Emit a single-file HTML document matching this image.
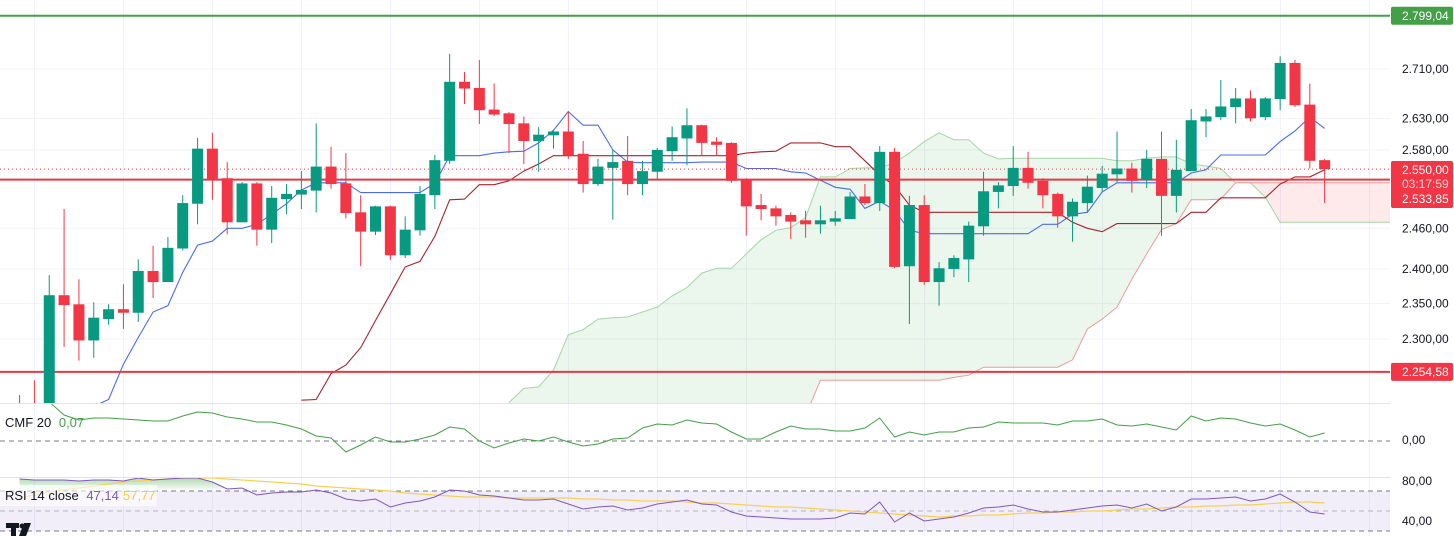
<!DOCTYPE html>
<html><head><meta charset="utf-8"><style>
html,body{margin:0;padding:0;background:#fff;}
svg{display:block;font-family:"Liberation Sans",sans-serif;}
</style></head><body>
<svg id="chart" width="1454" height="536" viewBox="0 0 1454 536" xmlns="http://www.w3.org/2000/svg">
<defs>
<clipPath id="mainClip"><rect x="0" y="0" width="1390" height="403"/></clipPath>
<clipPath id="cmfClip"><rect x="0" y="404" width="1390" height="73"/></clipPath>
<clipPath id="rsiClip"><rect x="0" y="478" width="1390" height="58"/></clipPath>
<linearGradient id="rsiGreen" x1="0" y1="0" x2="0" y2="1"><stop offset="0" stop-color="#4caf50" stop-opacity="0.45"/><stop offset="1" stop-color="#4caf50" stop-opacity="0"/></linearGradient>
</defs>
<g id="grid"></g>
<g id="cloud" clip-path="url(#mainClip)"></g>
<g id="lines" clip-path="url(#mainClip)"></g>
<g id="levels"></g>
<g id="candles" clip-path="url(#mainClip)"></g>
<g id="cmf"></g>
<g id="rsi"></g>
<g id="axis"></g>
</svg>
<script>
const opens=[2180,2212,2190,2362,2349,2298,2328,2342,2337,2397,2381,2430,2497,2582,2536,2469,2528,2458,2504,2511,2517,2554,2528,2484,2455,2493,2420,2457,2510,2563,2689,2679,2644,2638,2622,2594,2603,2609,2574,2527,2552,2563,2527,2546,2578,2598,2619,2593,2591,2535,2495,2490,2480,2472,2466,2470,2474,2508,2498,2577,2404,2495,2381,2400,2414,2463,2515,2524,2552,2532,2512,2478,2498,2521,2542,2551,2533,2566,2509,2547,2625,2632,2648,2662,2632,2661,2720,2652,2564];
const highs=[2223,2243,2391,2489,2385,2352,2349,2378,2414,2434,2447,2510,2599,2607,2561,2530,2530,2524,2527,2547,2622,2585,2575,2510,2494,2494,2478,2524,2572,2735,2705,2725,2686,2640,2633,2616,2611,2641,2594,2566,2580,2602,2563,2583,2617,2646,2620,2600,2592,2536,2512,2494,2484,2486,2494,2486,2515,2527,2586,2583,2509,2510,2410,2420,2470,2546,2530,2586,2577,2536,2514,2505,2540,2555,2609,2560,2580,2609,2596,2645,2645,2692,2679,2675,2664,2731,2725,2686,2566];
const lows=[2170,2180,2180,2289,2270,2274,2320,2314,2324,2358,2381,2427,2466,2503,2451,2469,2434,2438,2481,2489,2484,2520,2475,2404,2450,2413,2416,2449,2489,2558,2653,2621,2634,2575,2558,2546,2582,2566,2514,2524,2473,2510,2510,2533,2563,2556,2572,2571,2529,2449,2472,2464,2444,2446,2452,2464,2474,2495,2486,2401,2321,2377,2347,2388,2381,2449,2490,2509,2520,2490,2461,2440,2484,2515,2529,2514,2521,2449,2484,2547,2600,2627,2622,2625,2627,2643,2648,2551,2498];
const closes=[2205,2190,2362,2348,2298,2330,2342,2337,2397,2381,2431,2498,2582,2535,2469,2528,2458,2506,2512,2518,2554,2527,2483,2455,2493,2420,2458,2512,2564,2689,2678,2643,2636,2621,2594,2604,2609,2571,2527,2554,2561,2527,2547,2580,2600,2619,2591,2588,2532,2493,2489,2478,2470,2466,2472,2475,2508,2498,2577,2403,2495,2381,2401,2416,2464,2516,2525,2552,2529,2510,2478,2500,2523,2543,2551,2532,2566,2509,2549,2627,2633,2649,2662,2630,2662,2720,2651,2563,2550];
const tenkan=[null,null,null,null,null,2208,2217,2265,2302,2338,2347,2395,2435,2441,2460,2460,2466,2481,2497,2518,2529,2529,2529,2514,2514,2514,2514,2514,2528,2571,2571,2571,2575,2577,2578,2591,2611,2641,2619,2619,2580,2561,2560,2560,2560,2560,2561,2561,2561,2551,2551,2551,2546,2544,2533,2522,2519,2490,2501,2487,2457,2452,2452,2452,2452,2452,2452,2452,2452,2466,2466,2481,2484,2515,2529,2529,2529,2529,2529,2544,2549,2572,2572,2572,2572,2593,2610,2632,2614];
const kijun=[null,null,null,null,null,null,null,null,null,null,null,null,null,null,null,null,null,null,null,2216,2217,2252,2264,2288,2326,2364,2403,2411,2448,2503,2504,2526,2526,2532,2547,2558,2571,2571,2571,2571,2571,2571,2571,2571,2571,2571,2571,2571,2571,2575,2577,2578,2591,2591,2591,2585,2585,2563,2541,2524,2495,2484,2484,2484,2484,2484,2484,2484,2484,2484,2484,2469,2460,2455,2467,2467,2467,2467,2467,2484,2484,2506,2506,2506,2506,2527,2538,2538,2549];
const cloudStart=33;
const spanA=[2213,2232,2234,2257,2306,2313,2328,2330,2331,2338,2345,2361,2373,2394,2401,2401,2422,2443,2457,2461,2476,2538,2538,2551,2552,2552,2560,2575,2593,2607,2596,2596,2575,2566,2567,2567,2567,2567,2567,2567,2567,2563,2563,2567,2569,2569,2558,2555,2551,2529,2529,2507,2469,2469,2469,2469,2469,2469,2469,2469,2469];
const spanB=[2150,2150,2150,2150,2150,2150,2150,2150,2150,2150,2150,2150,2150,2150,2150,2150,2150,2150,2150,2150,2195,2243,2243,2243,2243,2243,2243,2243,2243,2243,2247,2250,2261,2261,2261,2261,2261,2261,2271,2314,2328,2345,2385,2422,2458,2467,2503,2503,2504,2529,2529,2529,2529,2529,2529,2529,2529,2529,2529,2529,2529];
const cmfVals=[0.41,0.41,0.39,0.26,0.21,0.23,0.23,0.22,0.21,0.20,0.20,0.25,0.29,0.28,0.24,0.22,0.19,0.19,0.16,0.12,0.05,0.03,-0.11,-0.04,0.04,-0.01,-0.01,0.02,0.06,0.14,0.12,0.00,-0.07,-0.02,0.02,0.00,0.04,-0.01,-0.05,-0.03,0.02,0.03,0.13,0.17,0.16,0.21,0.18,0.17,0.09,0.02,0.02,0.09,0.15,0.12,0.12,0.10,0.10,0.13,0.23,0.04,0.09,0.06,0.09,0.09,0.13,0.14,0.19,0.18,0.18,0.18,0.16,0.20,0.20,0.22,0.16,0.15,0.17,0.14,0.11,0.25,0.20,0.23,0.22,0.18,0.15,0.17,0.11,0.04,0.08];
const rsiVals=[82,81,81,81,80,81,81,80,83,81,82,83,83,79,72,73,66,68,69,69,71,68,62,60,62,54,58,60,64,71,70,66,65,63,61,61,62,57,52,54,55,51,53,57,59,61,57,56,49,45,44,43,42,42,42,43,48,47,59,39,48,40,42,44,48,53,54,56,52,49,49,51,53,55,56,53,57,50,54,62,62,63,64,60,62,67,59,49,47];
const rsiMa=[63,66,69,71,73,75,77,79,80,81,82,83,83,83,82,81,80,79,78,77,75,74,73,72,71,70,68,67,66,65,64,64,64,63,63,63,63,63,62,62,61,61,60,60,60,59,58,58,57,56,55,54,54,53,52,51,50,49,48,47,46,45,44,45,45,46,46,47,48,48,49,49,50,50,51,52,52,53,54,54,55,55,56,56,57,58,59,59,58];
const priceTicks=[2710,2630,2580,2460,2400,2350,2300];
const priceTickLabels=["2.710,00","2.630,00","2.580,00","2.460,00","2.400,00","2.350,00","2.300,00"];
const levelGreen=2799.04, levelRed1=2533.85, levelRed2=2254.58, lastPrice=2550.00;

const NS="http://www.w3.org/2000/svg";
const X0=19.6, DX=14.83;
function xOf(i){return X0+DX*i;}
function yP(p){return 69+(Math.log(2710)-Math.log(p))*1646;}
function yC(v){return 441-v*100;}
function yR(v){return 561-v;}
function mk(tag,attrs,parent){const e=document.createElementNS(NS,tag);for(const k in attrs)e.setAttribute(k,attrs[k]);parent.appendChild(e);return e;}
const $=id=>document.getElementById(id);

const g=$('grid');
for(let k=0;k<16;k++){const x=34.5+89*k;
 const l=mk('line',{x1:x,y1:0,x2:x,y2:536,stroke:'#f0f3fa','stroke-width':1},g);
 
 }
priceTicks.forEach(p=>{const l=mk('line',{x1:0,y1:yP(p),x2:1390,y2:yP(p),stroke:'#f0f3fa','stroke-width':1},g);
 
 });
mk('line',{x1:0,y1:403.5,x2:1454,y2:403.5,stroke:'#e0e3eb','stroke-width':1},g);
mk('line',{x1:0,y1:477.5,x2:1454,y2:477.5,stroke:'#e0e3eb','stroke-width':1},g);

const cg=$('cloud');
function cloudPoly(){
 let segs=[],cur=null;
 for(let j=0;j<spanA.length;j++){
  const up=spanA[j]>=spanB[j];
  if(!cur||cur.up!==up){ if(cur)segs.push(cur); cur={up:up,idx:[]}; if(segs.length&&j>0)cur.idx.push(j-1);}
  cur.idx.push(j);
 }
 segs.push(cur);
 segs.forEach(s=>{
  const top=s.idx.map(j=>xOf(cloudStart+j)+','+yP(spanA[j]));
  const bot=s.idx.slice().reverse().map(j=>xOf(cloudStart+j)+','+yP(spanB[j]));
  const pg=mk('polygon',{points:top.concat(bot).join(' '),fill:s.up?'rgba(76,175,80,0.11)':'rgba(242,54,69,0.11)'},cg);
  
  
 });
}
cloudPoly();
function pathFrom(arr,start,yf){let d='';let pen=false;arr.forEach((v,j)=>{if(v===null){pen=false;return;}d+=(pen?'L':'M')+xOf(start+j).toFixed(1)+','+yf(v).toFixed(1);pen=true;});return d;}
const sa=mk('path',{d:pathFrom(spanA,cloudStart,yP),fill:'none',stroke:'#a5d6a7','stroke-width':1},cg);


const sb=mk('path',{d:pathFrom(spanB,cloudStart,yP),fill:'none',stroke:'#ef9a9a','stroke-width':1},cg);



const lg=$('lines');
const tk=mk('path',{d:pathFrom(tenkan,0,yP),fill:'none',stroke:'#4a6cf0','stroke-width':1.1},lg);


const kj=mk('path',{d:pathFrom(kijun,0,yP),fill:'none',stroke:'#a8232d','stroke-width':1.1},lg);



const lv=$('levels');
const l1=mk('line',{x1:0,y1:yP(levelGreen),x2:1392,y2:yP(levelGreen),stroke:'#43a047','stroke-width':2},lv);


const l2=mk('line',{x1:0,y1:yP(levelRed1),x2:1392,y2:yP(levelRed1),stroke:'#e53945','stroke-width':2},lv);


const l3=mk('line',{x1:0,y1:yP(levelRed2),x2:1392,y2:yP(levelRed2),stroke:'#e53945','stroke-width':2},lv);


const l4=mk('line',{x1:0,y1:yP(lastPrice),x2:1392,y2:yP(lastPrice),stroke:'#f23645','stroke-width':1,'stroke-dasharray':'1 3'},lv);



const kg=$('candles');
for(let i=0;i<opens.length;i++){
 const up=closes[i]>=opens[i];const col=up?'#089981':'#f23645';const x=xOf(i);
 const w=mk('line',{x1:x,y1:yP(highs[i]),x2:x,y2:yP(lows[i]),stroke:col,'stroke-width':1},kg);
 
 
 const t=yP(Math.max(opens[i],closes[i])),b=yP(Math.min(opens[i],closes[i]));
 const r=mk('rect',{x:x-5.5,y:t,width:11,height:Math.max(1,b-t),fill:col},kg);
 
 
}

const cm=$('cmf');
const z=mk('line',{x1:0,y1:yC(0),x2:1390,y2:yC(0),stroke:'#787b86','stroke-width':1,'stroke-dasharray':'5 4'},cm);


const cl=mk('path',{d:pathFrom(cmfVals,0,yC),fill:'none',stroke:'#43a047','stroke-width':1,'clip-path':'url(#cmfClip)'},cm);


const ct=mk('text',{x:5,y:427,'font-size':13,fill:'#131722'},cm);


ct.innerHTML='CMF 20 <tspan fill="#43a047" dx="4">0,07</tspan>';

const rg=$('rsi');
const band=mk('rect',{x:0,y:yR(70),width:1390,height:yR(30)-yR(70),fill:'rgba(126,87,194,0.1)'},rg);


[70,50,30].forEach(v=>{const d=mk('line',{x1:0,y1:yR(v),x2:1390,y2:yR(v),stroke:v===50?'#b2b5be':'#787b86','stroke-width':1,'stroke-dasharray':'5 4'},rg);
 
 });
let pts=[];
for(let i=0;i<rsiVals.length;i++){pts.push(xOf(i)+','+Math.min(yR(rsiVals[i]),yR(70)));}
const gf=mk('polygon',{points:xOf(0)+','+yR(70)+' '+pts.join(' ')+' '+xOf(rsiVals.length-1)+','+yR(70),fill:'url(#rsiGreen)','clip-path':'url(#rsiClip)'},rg);


const ma=mk('path',{d:pathFrom(rsiMa,0,yR),fill:'none',stroke:'#f7d155','stroke-width':1.2,'clip-path':'url(#rsiClip)'},rg);


const rl=mk('path',{d:pathFrom(rsiVals,0,yR),fill:'none',stroke:'#7e57c2','stroke-width':1,'clip-path':'url(#rsiClip)'},rg);


const lb=mk('rect',{x:0,y:485,width:157,height:21,fill:'rgba(255,255,255,0.6)'},rg);


const rt=mk('text',{x:5,y:500,'font-size':13,fill:'#131722'},rg);


rt.innerHTML='RSI 14 close <tspan fill="#7e57c2" dx="4">47,14</tspan><tspan fill="#f7c948" dx="4">57,77</tspan>';
const lg2=mk('g',{},rg);


mk('rect',{x:6,y:523,width:13,height:5,fill:'#131722'},lg2);
mk('rect',{x:11,y:523,width:5,height:13,fill:'#131722'},lg2);
mk('polygon',{points:'24,523 31,523 26,536 19,536',fill:'#131722'},lg2);
mk('circle',{cx:22,cy:526,r:2.5,fill:'#131722'},lg2);

const ax=$('axis');
mk('rect',{x:1390,y:0,width:64,height:536,fill:'#fff'},ax);
priceTicks.forEach((p,k)=>{const t=mk('text',{x:1402,y:yP(p)+4,'font-size':12,fill:'#131722'},ax);
 
 
 t.textContent=priceTickLabels[k];});
function box(y1,h,fill,name){const r=mk('rect',{x:1391,y:y1,width:62,height:h,fill:fill,rx:2},ax);
 
 }
box(yP(levelGreen)-9,18,'#43a047','resistance-label');
box(161,47,'#f23645','last-price-label');
box(yP(levelRed2)-9,18,'#f23645','support-label');
function lbl(txt,y,col,name){const t=mk('text',{x:1402,y:y,'font-size':12,fill:col},ax);
 
 
 t.textContent=txt;}
lbl('2.799,04',yP(levelGreen)+4,'#fff','resistance-value');
lbl('2.550,00',174,'#fff','last-price-value');
lbl('03:17:59',188,'#fbd0d4','countdown');
lbl('2.533,85',203,'#fff','support-1-value');
lbl('2.254,58',yP(levelRed2)+4,'#fff','support-2-value');
lbl('0,00',yC(0)+3,'#131722','cmf-zero-label');
lbl('80,00',yR(80)+4,'#131722','rsi-80-label');
lbl('40,00',yR(40)+4,'#131722','rsi-40-label');
</script>
</body></html>
